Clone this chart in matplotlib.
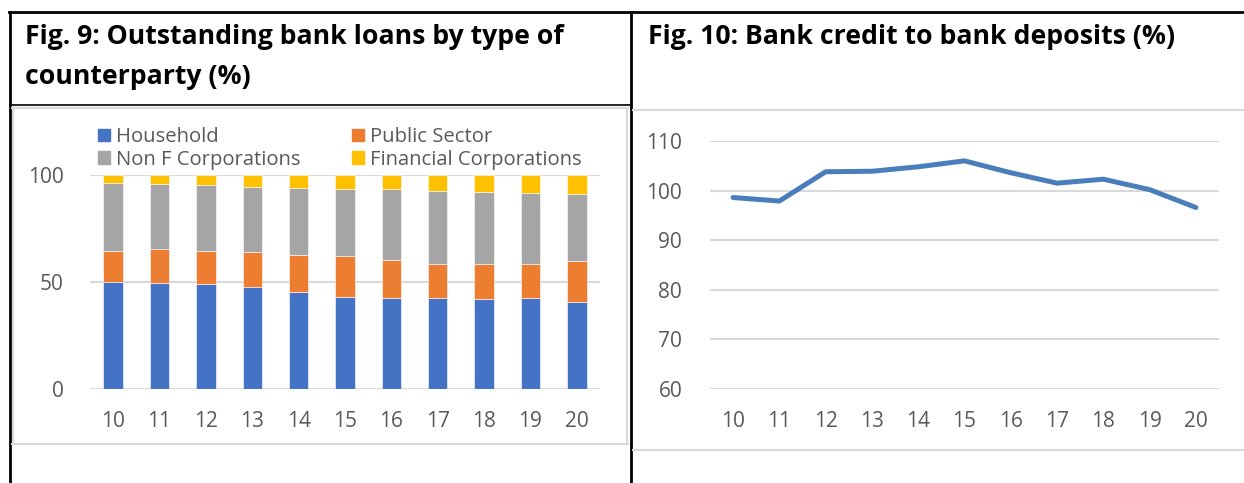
import matplotlib.pyplot as plt
from matplotlib.lines import Line2D
from matplotlib.patches import Patch
import numpy as np

plt.rcParams['font.family'] = ['Open Sans', 'DejaVu Sans']

# years (20xx)
years = ['10', '11', '12', '13', '14', '15', '16', '17', '18', '19', '20']

# outstanding bank loans by counterparty, share of total (%)
household = [50.2, 49.5, 48.9, 47.8, 45.5, 43.1, 42.4, 42.4, 41.9, 42.4, 40.7]
public_sector = [14.4, 15.8, 15.7, 16.2, 17.3, 19.2, 18.0, 16.2, 16.7, 16.2, 19.1]
non_f_corps = [31.8, 30.5, 30.6, 30.5, 31.1, 31.0, 32.9, 34.1, 33.5, 33.0, 31.2]
financial_corps = [3.6, 4.2, 4.8, 5.5, 6.1, 6.7, 6.7, 7.3, 7.9, 8.4, 9.0]

# bank credit to bank deposits (%)
credit_to_deposits = [98.6, 97.9, 103.8, 103.9, 104.8, 106.0, 103.6, 101.5, 102.3, 100.2, 96.6]

W, H = 1244, 483
fig = plt.figure(figsize=(W / 100, H / 100), dpi=100)


def box(x0, y0, x1, y1):
    # pixel box (top-left origin) -> figure fraction rect
    return [x0 / W, 1 - y1 / H, (x1 - x0) / W, (y1 - y0) / H]


def hline(x0, x1, y, color, lw):
    fig.add_artist(Line2D([x0 / W, x1 / W], [1 - y / H, 1 - y / H],
                          color=color, lw=lw, transform=fig.transFigure))


def vline(x, y0, y1, color, lw):
    fig.add_artist(Line2D([x / W, x / W], [1 - y0 / H, 1 - y1 / H],
                          color=color, lw=lw, transform=fig.transFigure))


grid_col = '#D9D9D9'
txt_col = '#595959'

# table borders around the two figures
hline(9, W, 12, 'black', 2.0)
vline(10, 12, H, 'black', 2.0)
vline(631, 12, H, 'black', 2.0)
hline(10, 631, 105, 'black', 1.2)

# chart frames
hline(12, 628, 108, grid_col, 1.5)
hline(12, 628, 444, grid_col, 1.5)
vline(13, 108, 444, grid_col, 1.5)
vline(627, 108, 444, grid_col, 1.5)
hline(633, W, 110, grid_col, 1.5)
hline(633, W, 450, grid_col, 1.5)

# titles
title_kw = dict(fontsize=19.2, fontweight='bold', color='black', va='baseline', ha='left')
fig.text(25 / W, 1 - 44 / H, 'Fig. 9: Outstanding bank loans by type of', **title_kw)
fig.text(25 / W, 1 - 84 / H, 'counterparty (%)', **title_kw)
fig.text(648 / W, 1 - 44 / H, 'Fig. 10: Bank credit to bank deposits (%)', **title_kw)

# ---- Fig. 9: stacked bars
ax1 = fig.add_axes(box(90, 175, 600, 389))
x = np.arange(len(years))
colors = ['#4472C4', '#ED7D31', '#A5A5A5', '#FFC000']
names = ['Household', 'Public Sector', 'Non F Corporations', 'Financial Corporations']
bottom = np.zeros(len(years))
for vals, c in zip([household, public_sector, non_f_corps, financial_corps], colors):
    ax1.bar(x, vals, 0.42, bottom=bottom, color=c, edgecolor='white', linewidth=0.4, zorder=3)
    bottom += np.array(vals)

ax1.set_xlim(-0.5, len(years) - 0.5)
ax1.set_ylim(0, 100)
ax1.set_yticks([0, 50, 100])
ax1.set_xticks(x)
ax1.set_xticklabels(years)
ax1.grid(axis='y', color=grid_col, lw=1.5, zorder=0)
for s in ax1.spines.values():
    s.set_visible(False)
ax1.tick_params(length=0, labelsize=15, colors=txt_col)
ax1.tick_params(axis='x', pad=16)
ax1.tick_params(axis='y', pad=19)

handles = [Patch(color=c) for c in colors]
order = [0, 2, 1, 3]
leg = fig.legend([handles[i] for i in order], [names[i] for i in order],
                 ncol=2, loc='upper left', bbox_to_anchor=(88 / W, 1 - 117 / H),
                 frameon=False, fontsize=14.6, handlelength=0.6, handleheight=0.6,
                 handletextpad=0.3, columnspacing=2.5, labelspacing=0.12, borderpad=0)
for t in leg.get_texts():
    t.set_color(txt_col)

# ---- Fig. 10: line
ax2 = fig.add_axes(box(710, 141, 1219, 389))
ax2.plot(np.arange(len(years)), credit_to_deposits, color='#4A7EBB', lw=3.6,
         solid_capstyle='round', solid_joinstyle='round', zorder=3)
ax2.set_xlim(-0.5, len(years) - 0.5)
ax2.set_ylim(60, 110)
ax2.set_yticks(range(60, 111, 10))
ax2.set_xticks(np.arange(len(years)))
ax2.set_xticklabels(years)
ax2.grid(axis='y', color=grid_col, lw=1.5, zorder=0)
for s in ax2.spines.values():
    s.set_visible(False)
ax2.tick_params(length=0, labelsize=15, colors=txt_col)
ax2.tick_params(axis='x', pad=16)
ax2.tick_params(axis='y', pad=20)

fig.savefig('out.png', dpi=100)
